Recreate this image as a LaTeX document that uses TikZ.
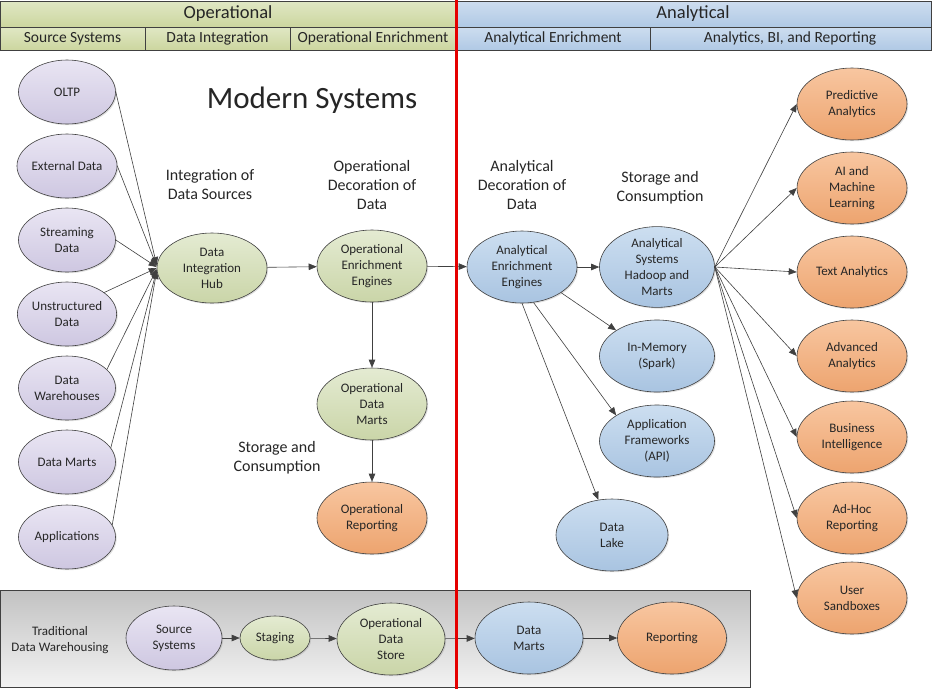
\documentclass[tikz,border=0pt]{standalone}
\usepackage{fontspec}
\setmainfont{Carlito}
\usetikzlibrary{shapes.geometric,arrows.meta,shadows}
\definecolor{purT}{HTML}{E9E5F3}\definecolor{purB}{HTML}{CEC7E1}
\definecolor{grnT}{HTML}{E4EBD2}\definecolor{grnB}{HTML}{CAD5A8}
\definecolor{bluT}{HTML}{CCDEF0}\definecolor{bluB}{HTML}{A9C4E1}
\definecolor{orgT}{HTML}{F8C6A0}\definecolor{orgB}{HTML}{EDA46F}
\definecolor{hgrnT}{HTML}{E0E7C4}\definecolor{hgrnB}{HTML}{CCD69F}
\definecolor{hbluT}{HTML}{CDDDEF}\definecolor{hbluB}{HTML}{B0C9E5}
\definecolor{edge}{HTML}{404040}
\definecolor{txt}{HTML}{262626}
\begin{document}
\begin{tikzpicture}[x=1pt,y=-1pt,
  ell/.style={ellipse, draw=edge, line width=0.6pt, inner sep=0pt, align=center,
    text=txt, font=\fontsize{13}{16}\selectfont,
    drop shadow={shadow xshift=1.2pt, shadow yshift=-1.2pt, opacity=0.25},
    minimum width=110pt, minimum height=72pt},
  src/.style={ell, top color=purT, bottom color=purB, minimum width=97pt, minimum height=64pt},
  grn/.style={ell, top color=grnT, bottom color=grnB},
  blu/.style={ell, top color=bluT, bottom color=bluB},
  org/.style={ell, top color=orgT, bottom color=orgB},
  arr/.style={draw=edge, line width=0.6pt, -{Triangle[length=8pt,width=6.5pt]}},
  hdrg/.style={draw=edge, line width=0.5pt, top color=hgrnT, bottom color=hgrnB},
  hdrb/.style={draw=edge, line width=0.5pt, top color=hbluT, bottom color=hbluB},
  lbl/.style={align=center, text=txt, font=\fontsize{16}{19}\selectfont},
  hlbl/.style={text=txt, font=\fontsize{15.5}{18}\selectfont}]
\useasboundingbox (0,0) rectangle (933,689);
\fill[white] (0,0) rectangle (933,689);

% header
\path[hdrg] (0,1) rectangle (456,27);
\path[hdrb] (456,1) rectangle (931,27);
\path[hdrg] (0,27) rectangle (145,50);
\path[hdrg] (145,27) rectangle (290,50);
\path[hdrg] (290,27) rectangle (456,50);
\path[hdrb] (456,27) rectangle (650,50);
\path[hdrb] (650,27) rectangle (931,50);
\node[text=txt, font=\fontsize{18.5}{20}\selectfont] (hop) at (228,14) {Operational};
\node[text=txt, font=\fontsize{18.5}{20}\selectfont] (han) at (693,14) {Analytical};
\node[hlbl] (h1) at (72.5,38.5) {Source Systems};
\node[hlbl] (h2) at (217.5,38.5) {Data Integration};
\node[hlbl] (h3) at (373,38.5) {Operational Enrichment};
\node[hlbl] (h4) at (553,38.5) {Analytical Enrichment};
\node[hlbl] (h5) at (790,38.5) {Analytics, BI, and Reporting};

% bottom box
\path[draw=edge, line width=0.6pt, top color=black!24, bottom color=black!5] (0,590) rectangle (750,687);

% labels
\node[text=txt, font=\fontsize{31}{34}\selectfont] (title) at (312,100) {Modern Systems};
\node[lbl] (l1) at (210,185) {Integration of\\Data Sources};
\node[lbl] (l2) at (372,185) {Operational\\Decoration of\\Data};
\node[lbl] (l3) at (522,185) {Analytical\\Decoration of\\Data};
\node[lbl] (l4) at (660,188) {Storage and\\Consumption};
\node[lbl] (l5) at (277,458) {Storage and\\Consumption};
\node[align=center, text=txt, font=\fontsize{13}{16}\selectfont] (l6) at (60,640) {Traditional\\Data Warehousing};

% source nodes
\node[src] (s1) at (67,92) {OLTP};
\node[src] (s2) at (67,166) {External Data};
\node[src] (s3) at (67,240) {Streaming\\Data};
\node[src] (s4) at (67,314) {Unstructured\\Data};
\node[src] (s5) at (67,388) {Data\\Warehouses};
\node[src] (s6) at (67,462) {Data Marts};
\node[src] (s7) at (67,537) {Applications};

\node[grn, minimum height=70pt] (hub) at (212,268) {Data\\Integration\\Hub};
\node[grn] (oee) at (372,266) {Operational\\Enrichment\\Engines};
\node[grn] (odm) at (372,404) {Operational\\Data\\Marts};
\node[org] (orp) at (372,518) {Operational\\Reporting};

\node[blu] (aee) at (522,267) {Analytical\\Enrichment\\Engines};
\node[blu, minimum width=115pt] (ashm) at (657,267) {Analytical\\Systems\\Hadoop and\\Marts};
\node[blu, minimum width=115pt] (inm) at (657,356) {In-Memory\\(Spark)};
\node[blu, minimum width=115pt] (apf) at (657,441) {Application\\Frameworks\\(API)};
\node[blu, minimum width=112pt] (lake) at (612,535) {Data\\Lake};

\node[org] (o1) at (852,104) {Predictive\\Analytics};
\node[org] (o2) at (852,188) {AI and\\Machine\\Learning};
\node[org] (o3) at (852,272) {Text Analytics};
\node[org] (o4) at (852,356) {Advanced\\Analytics};
\node[org] (o5) at (852,437) {Business\\Intelligence};
\node[org] (o6) at (852,518) {Ad-Hoc\\Reporting};
\node[org] (o7) at (852,598) {User\\Sandboxes};

% traditional
\node[src, minimum width=96pt] (tss) at (174,638) {Source\\Systems};
\node[grn, minimum width=70pt, minimum height=44pt] (tst) at (275,638) {Staging};
\node[grn, minimum width=108pt] (tods) at (391,639) {Operational\\Data\\Store};
\node[blu, minimum width=108pt] (tdm) at (529,638) {Data\\Marts};
\node[org, minimum width=109pt] (trep) at (672,638) {Reporting};

% connectors
\draw[arr] (s1.east) -- ([yshift=3pt]hub.west);
\draw[arr] (s2.east) -- ([yshift=2pt]hub.west);
\draw[arr] (s3.east) -- ([yshift=1pt]hub.west);
\draw[arr] (s4.30) -- (hub.west);
\draw[arr] (s5.25) -- ([yshift=-1pt]hub.west);
\draw[arr] (s6.18) -- ([yshift=-2pt]hub.west);
\draw[arr] (s7.15) -- ([yshift=-3pt]hub.west);
\draw[arr] (hub) -- (oee);
\draw[arr] (oee) -- (aee);
\draw[arr] (oee) -- (odm);
\draw[arr] (odm) -- (orp);
\draw[arr] (aee) -- (ashm);
\draw[arr] (aee.south east) -- (inm.north west);
\draw[arr] (aee.-72) -- (apf.north west);
\draw[arr] (aee.south) -- (lake);
\foreach \o in {o1,o2,o3,o4,o5,o6,o7} \draw[arr] (ashm.east) -- (\o.west);
\draw[arr] (tss) -- (tst);
\draw[arr] (tst) -- (tods);
\draw[arr] (tods) -- (tdm);
\draw[arr] (tdm) -- (trep);

% red divider
\coordinate (rtop) at (456,0);
\coordinate (rbot) at (456,689);
\draw[red!90!black, line width=3pt] (rtop) -- (rbot);
\end{tikzpicture}
\end{document}
